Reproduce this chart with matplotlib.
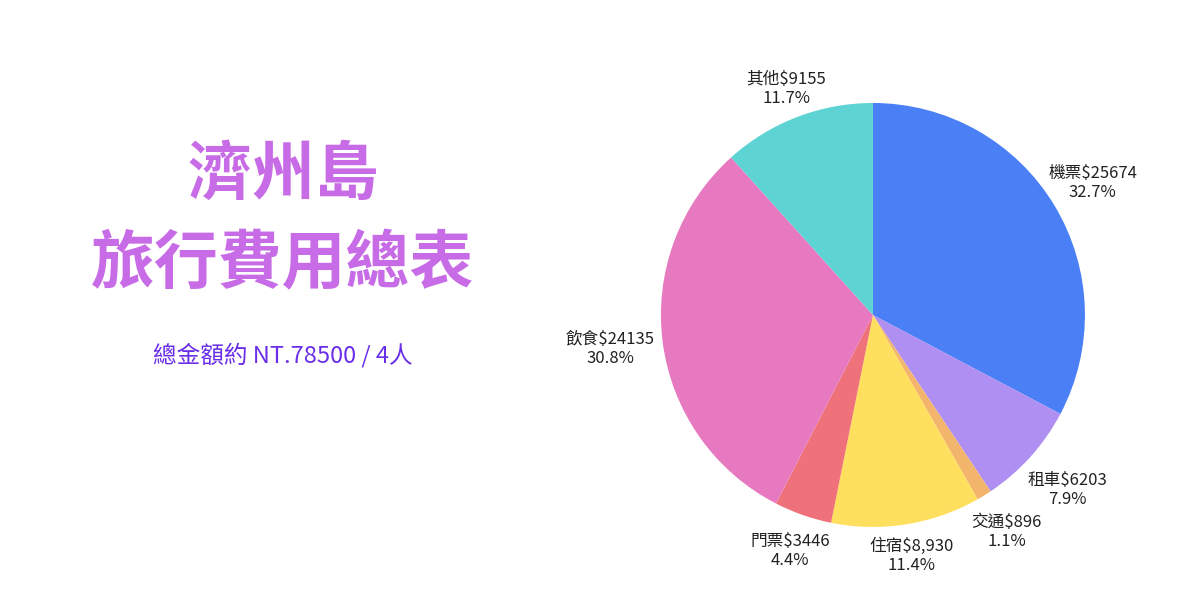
import numpy as np
import matplotlib.pyplot as plt

plt.rcParams['font.family'] = ['Noto Sans CJK TC', 'DejaVu Sans']

categories = ["機票", "租車", "交通", "住宿", "門票", "飲食", "其他"]
amounts = [25674, 6203, 896, 8930, 3446, 24135, 9155]
amount_text = ["$25674", "$6203", "$896", "$8,930", "$3446", "$24135", "$9155"]
colors = ["#4a7ff5", "#b08ff2", "#f2b56b", "#ffdf5e", "#ef717a", "#e779c1", "#5dd3d3"]
# how far out each label sits, in pie radii
label_dist = [1.21, 1.235, 1.2, 1.15, 1.18, 1.25, 1.14]

total = sum(amounts)
labels = [
    f"{c}{a}\n{v / total * 100:.1f}%"
    for c, a, v in zip(categories, amount_text, amounts)
]

fig = plt.figure(figsize=(12, 6), dpi=100)

ax = fig.add_axes([0.4978, 0.0157, 0.4593, 0.9187])
wedges, texts = ax.pie(
    amounts,
    labels=labels,
    colors=colors,
    startangle=90,
    counterclock=False,
    labeldistance=1.2,
    wedgeprops=dict(linewidth=0),
    textprops=dict(fontsize=12, color="#222222", linespacing=1.15),
)
for w, t, d in zip(wedges, texts, label_dist):
    ang = np.deg2rad((w.theta1 + w.theta2) / 2)
    t.set_position((d * np.cos(ang), d * np.sin(ang)))
    t.set_ha("center")
    t.set_va("center")
ax.set_xlim(-1.3, 1.3)
ax.set_ylim(-1.3, 1.3)
ax.set_aspect("equal")
ax.axis("off")

fig.text(283 / 1200, 1 - 175 / 600, "濟州島", ha="center", va="center",
         fontsize=46, fontweight="bold", color="#c86be6")
fig.text(283 / 1200, 1 - 265 / 600, "旅行費用總表", ha="center", va="center",
         fontsize=46, fontweight="bold", color="#c86be6")
fig.text(283 / 1200, 1 - 355 / 600, "總金額約 NT.78500 / 4人", ha="center", va="center",
         fontsize=17, color="#6a2ee8")

fig.savefig("out.png", dpi=100)
plt.close()
